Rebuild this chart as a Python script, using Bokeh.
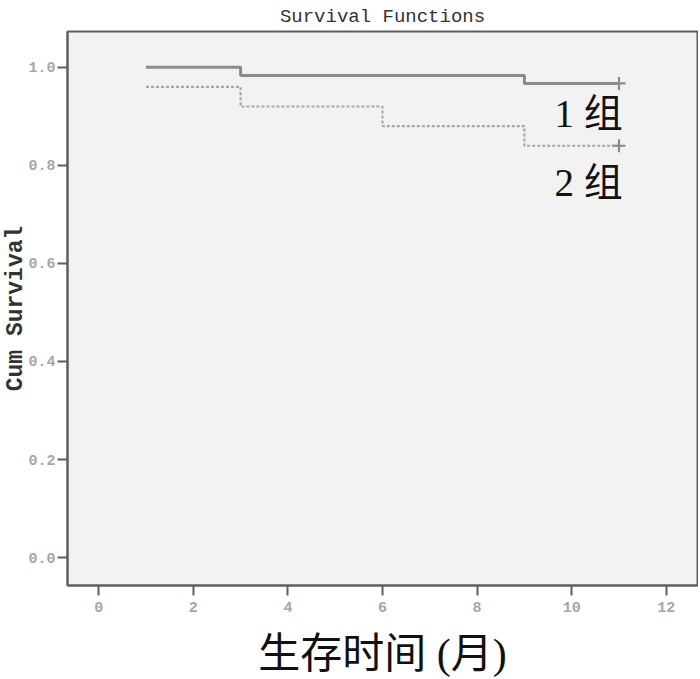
from bokeh.plotting import figure
from bokeh.models import FixedTicker, Range1d, Label, PrintfTickFormatter
from bokeh.embed import file_html
from bokeh.resources import INLINE

# Data
g1_time = [1, 3, 9, 11]
g1_surv = [1.0, 0.983, 0.967, 0.967]
g2_time = [1, 3, 6, 9, 11]
g2_surv = [0.96, 0.92, 0.88, 0.84, 0.84]
censor_time = [11, 11]
censor_surv = [0.967, 0.84]
group_labels = ["1 组", "2 组"]
label_y = [0.905, 0.765]
x_ticks = [0, 2, 4, 6, 8, 10, 12]
y_ticks = [0.0, 0.2, 0.4, 0.6, 0.8, 1.0]

p = figure(width=698, height=679, output_backend="svg", toolbar_location=None,
           x_range=Range1d(-0.66, 12.66), y_range=Range1d(-0.057, 1.073),
           min_border_left=67, min_border_top=30, min_border_right=1, min_border_bottom=94)

p.background_fill_color = "#f2f2f2"
p.border_fill_color = "white"
p.outline_line_color = "#5e5e5e"
p.outline_line_width = 2
p.grid.visible = False

p.title.text = "Survival Functions"
p.title.align = "center"
p.title.text_font = "Liberation Mono"
p.title.text_font_size = "19px"
p.title.text_font_style = "normal"
p.title.text_color = "#333333"
p.title.offset = 0
p.title.standoff = 7

for ax in (p.xaxis[0], p.yaxis[0]):
    ax.axis_line_color = "#5e5e5e"
    ax.axis_line_width = 2
    ax.major_tick_line_color = "#5e5e5e"
    ax.major_tick_line_width = 2
    ax.major_tick_out = 10
    ax.major_tick_in = 0
    ax.minor_tick_line_color = None
    ax.major_label_text_font = "Liberation Mono"
    ax.major_label_text_font_size = "15px"
    ax.major_label_text_font_style = "bold"
    ax.major_label_text_color = "#a6a6a6"

p.xaxis.ticker = FixedTicker(ticks=x_ticks)
p.yaxis.ticker = FixedTicker(ticks=y_ticks)
p.yaxis.formatter = PrintfTickFormatter(format="%.1f")
p.xaxis.major_label_standoff = 6
p.yaxis.major_label_standoff = 2

p.yaxis.axis_label = "Cum Survival"
p.yaxis.axis_label_text_font = "Liberation Mono"
p.yaxis.axis_label_text_font_size = "23px"
p.yaxis.axis_label_text_font_style = "bold"
p.yaxis.axis_label_text_color = "#333333"
p.yaxis.axis_label_standoff = -4

p.xaxis.axis_label = "生存时间 (月)"
p.xaxis.axis_label_text_font = "'Liberation Serif', 'Noto Sans CJK SC'"
p.xaxis.axis_label_text_font_size = "42px"
p.xaxis.axis_label_text_font_style = "normal"
p.xaxis.axis_label_text_color = "#111111"
p.xaxis.axis_label_standoff = 16

p.step(g1_time, g1_surv, mode="after", line_color="#8a8a8a", line_width=3)
p.step(g2_time, g2_surv, mode="after", line_color="#a8a8a8", line_width=2.2, line_dash="3 2")
p.scatter(censor_time, censor_surv, marker="cross", size=13, line_color="#8a8a8a", line_width=2.2)

for txt, yv in zip(group_labels, label_y):
    p.add_layout(Label(x=11.08, y=yv, text=txt, text_align="right", text_baseline="middle",
                       text_font="'Liberation Serif', 'Noto Sans CJK SC'", text_font_size="39px",
                       text_color="#111111"))

open("out.html", "w").write(file_html(p, INLINE))
